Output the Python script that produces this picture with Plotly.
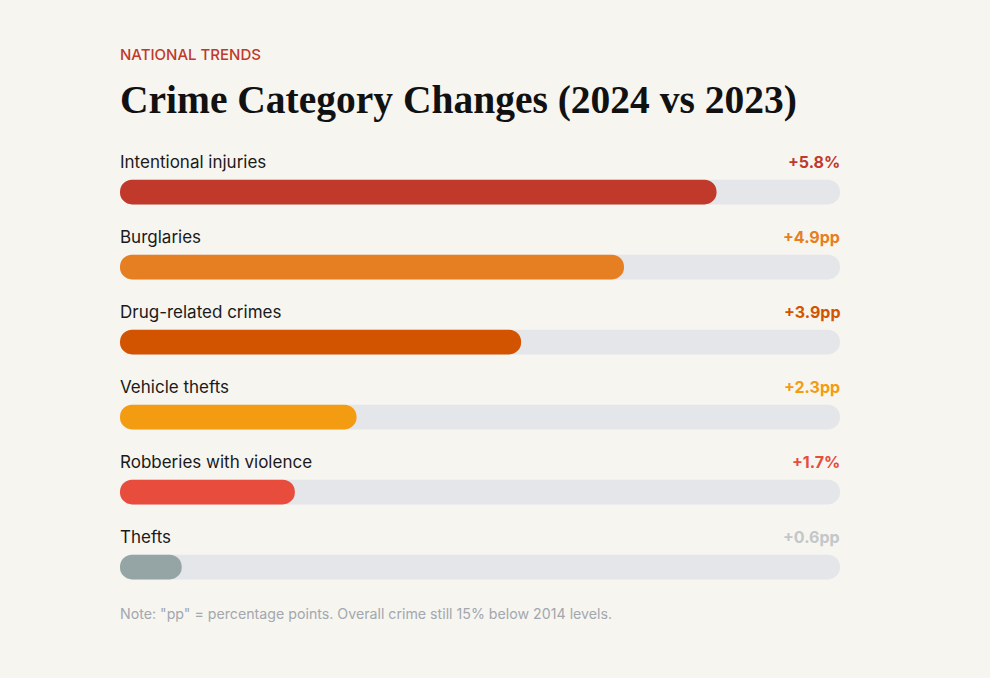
import plotly.graph_objects as go

# data
categories = ["Intentional injuries", "Burglaries", "Drug-related crimes",
              "Vehicle thefts", "Robberies with violence", "Thefts"]
values = [5.8, 4.9, 3.9, 2.3, 1.7, 0.6]
value_labels = ["+5.8%", "+4.9pp", "+3.9pp", "+2.3pp", "+1.7%", "+0.6pp"]
scale_max = 7.0

bar_colors = ["#c0392b", "#e67e22", "#d35400", "#f39c12", "#e74c3c", "#95a5a6"]
text_colors = ["#c0392b", "#e67e22", "#d35400", "#f39c12", "#e74c3c", "#c3c7c9"]

rows = list(range(len(categories)))
body_font = "Inter, DM Sans, sans-serif"
bg = "#f6f5f0"

fig = go.Figure()

# grey track behind, coloured bar on a second (overlaying) axis
# base=0 given explicitly so plotly rounds both ends
fig.add_trace(go.Bar(
    y=rows, x=[scale_max] * len(rows), base=[0] * len(rows), orientation="h",
    marker=dict(color="#e5e6e9", cornerradius=12, line_width=0),
    width=0.33, hoverinfo="skip", showlegend=False,
))
fig.add_trace(go.Bar(
    y=rows, x=values, base=[0] * len(rows), orientation="h", yaxis="y2",
    marker=dict(color=bar_colors, cornerradius=12, line_width=0),
    width=0.33, customdata=value_labels, text=categories, textposition="none",
    hovertemplate="%{text}: %{customdata}<extra></extra>", showlegend=False,
))

for i, (cat, lab, col) in enumerate(zip(categories, value_labels, text_colors)):
    fig.add_annotation(x=0, y=i, xref="x", yref="y", text=cat, showarrow=False,
                       xanchor="left", yanchor="middle", yshift=30, xshift=-2,
                       font=dict(family=body_font, size=17, color="#1a1a1a"))
    fig.add_annotation(x=scale_max, y=i, xref="x", yref="y", text="<b>%s</b>" % lab,
                       showarrow=False, xanchor="right", yanchor="middle",
                       yshift=30, xshift=2,
                       font=dict(family=body_font, size=16, color=col))

# header and footnote (paper coords, plot area spans y 142..592 px)
fig.add_annotation(x=0, xref="paper", y=(592 - 55) / 450, yref="paper",
                   text="NATIONAL TRENDS", showarrow=False, xshift=-2,
                   xanchor="left", yanchor="middle",
                   font=dict(family=body_font, size=15, weight=500, color="#c0392b"))
fig.add_annotation(x=0, xref="paper", y=(592 - 100) / 450, yref="paper",
                   text="<b>Crime Category Changes (2024 vs 2023)</b>",
                   showarrow=False, xanchor="left", yanchor="middle", xshift=-2,
                   font=dict(family="Liberation Serif, Georgia, serif", size=39.5, color="#111111"))
fig.add_annotation(x=0, xref="paper", y=(592 - 614) / 450, yref="paper",
                   text='Note: "pp" = percentage points. Overall crime still 15% below 2014 levels.',
                   showarrow=False, xanchor="left", yanchor="middle", xshift=-2,
                   font=dict(family=body_font, size=14.2, color="#a3a7ae"))

yrange = [5 + 1 / 3, -2 / 3]
fig.update_layout(
    width=990, height=678,
    margin=dict(l=120, r=150, t=142, b=86),
    paper_bgcolor=bg, plot_bgcolor=bg,
    barmode="overlay",
    xaxis=dict(range=[0, scale_max], visible=False, fixedrange=True),
    yaxis=dict(range=yrange, visible=False, fixedrange=True),
    yaxis2=dict(range=yrange, visible=False, fixedrange=True, overlaying="y"),
)

fig.write_html("out.html", config={"displayModeBar": False},
               post_script=f"document.body.style.margin='0';document.body.style.background='{bg}';")
